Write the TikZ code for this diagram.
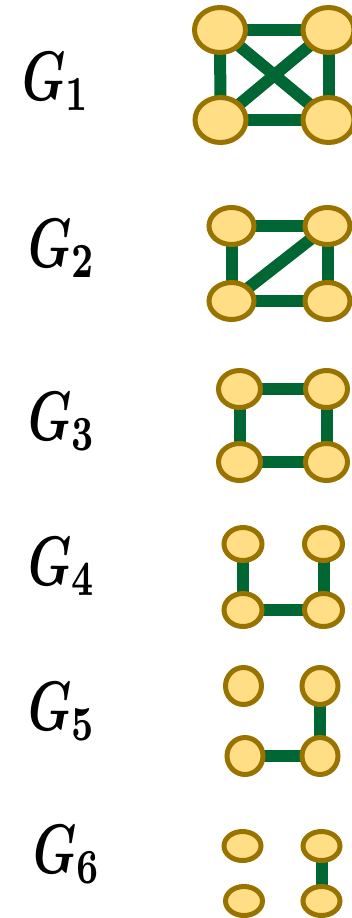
\documentclass[tikz,border=0pt]{standalone}
\usetikzlibrary{shapes.geometric,backgrounds}
\definecolor{vfill}{HTML}{FFDE85}
\definecolor{vline}{HTML}{997300}
\definecolor{egreen}{HTML}{006633}
\begin{document}
\begin{tikzpicture}[x=1pt,y=-1pt,
  vert/.style={ellipse,draw=vline,fill=vfill,line width=5pt,inner sep=0pt},
  edge/.style={draw=egreen,line width=12pt},
  glabel/.style={anchor=base west,inner sep=0pt}]
\useasboundingbox (0,0) rectangle (352,918);
% labels
\node[glabel] (l1) at (22,100) {\scalebox{4.9}[7.0]{\boldmath$G_1$}};
\node[glabel] (l2) at (28,267) {\scalebox{4.9}[7.0]{\boldmath$G_2$}};
\node[glabel] (l3) at (28,440) {\scalebox{4.9}[7.0]{\boldmath$G_3$}};
\node[glabel] (l4) at (28,585) {\scalebox{4.9}[7.0]{\boldmath$G_4$}};
\node[glabel] (l5) at (28,730) {\scalebox{4.9}[7.0]{\boldmath$G_5$}};
\node[glabel] (l6) at (33,873) {\scalebox{4.9}[7.0]{\boldmath$G_6$}};
% G1
\begin{scope}[every node/.append style={minimum width=51pt,minimum height=45pt}]
\node[vert] (a1) at (220,30) {};
\node[vert] (b1) at (328.5,30) {};
\node[vert] (c1) at (220.5,120) {};
\node[vert] (d1) at (328.5,120) {};
\end{scope}
% G2
\begin{scope}[every node/.append style={minimum width=45pt,minimum height=37pt}]
\node[vert] (a2) at (231.5,226) {};
\node[vert] (b2) at (327.5,226) {};
\node[vert] (c2) at (231.5,301) {};
\node[vert] (d2) at (327.5,301) {};
\end{scope}
% G3
\begin{scope}[every node/.append style={minimum width=42pt,minimum height=37pt}]
\node[vert] (a3) at (239.5,389) {};
\node[vert] (b3) at (326.5,389) {};
\node[vert] (c3) at (239.5,462) {};
\node[vert] (d3) at (326.5,462) {};
\end{scope}
% G4
\begin{scope}[every node/.append style={minimum width=38pt,minimum height=33pt}]
\node[vert] (a4) at (243,544) {};
\node[vert] (b4) at (323.5,544) {};
\node[vert] (c4) at (243,610) {};
\node[vert] (d4) at (323.5,610) {};
\end{scope}
% G5
\begin{scope}[every node/.append style={minimum width=36pt,minimum height=37pt}]
\node[vert] (a5) at (243.5,686) {};
\node[vert] (b5) at (320,686) {};
\node[vert] (c5) at (245,756) {};
\node[vert] (d5) at (320,756) {};
\end{scope}
% G6
\begin{scope}[every node/.append style={minimum width=37pt,minimum height=29pt}]
\node[vert] (a6) at (242.5,846) {};
\node[vert] (b6) at (321.5,846) {};
\node[vert] (c6) at (244,901) {};
\node[vert] (d6) at (321.5,901) {};
\end{scope}
% edges
\begin{scope}[on background layer]
\draw[edge] (a1.center) -- (b1.center);
\draw[edge] (a1.center) -- (c1.center);
\draw[edge] (b1.center) -- (d1.center);
\draw[edge] (c1.center) -- (d1.center);
\draw[edge] (a1.center) -- (d1.center);
\draw[edge] (b1.center) -- (c1.center);
\draw[edge] (a2.center) -- (b2.center);
\draw[edge] (a2.center) -- (c2.center);
\draw[edge] (b2.center) -- (d2.center);
\draw[edge] (c2.center) -- (d2.center);
\draw[edge] (b2.center) -- (c2.center);
\draw[edge] (a3.center) -- (b3.center);
\draw[edge] (a3.center) -- (c3.center);
\draw[edge] (b3.center) -- (d3.center);
\draw[edge] (c3.center) -- (d3.center);
\draw[edge] (a4.center) -- (c4.center);
\draw[edge] (b4.center) -- (d4.center);
\draw[edge] (c4.center) -- (d4.center);
\draw[edge] (b5.center) -- (d5.center);
\draw[edge] (c5.center) -- (d5.center);
\draw[edge] (b6.center) -- (d6.center);
\end{scope}
\end{tikzpicture}
\end{document}
